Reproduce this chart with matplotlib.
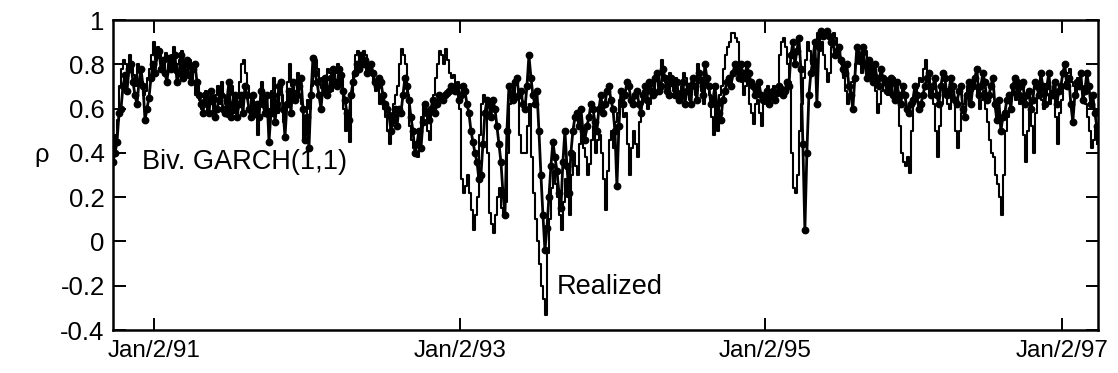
import numpy as np
import matplotlib
matplotlib.use("Agg")
import matplotlib.pyplot as plt

plt.rcParams['font.family'] = ['Liberation Sans', 'DejaVu Sans']
plt.rcParams['axes.unicode_minus'] = False

# Biv. GARCH(1,1) correlation (line with dots), read every ~4 px
garch = [
    0.36, 0.45, 0.60, 0.75, 0.78, 0.72, 0.62, 0.78, 0.55, 0.65, 0.80, 0.84,
    0.78, 0.76, 0.83, 0.80, 0.72, 0.84, 0.80, 0.75, 0.78, 0.72, 0.62, 0.66,
    0.58, 0.65, 0.60, 0.66, 0.58, 0.72, 0.62, 0.56, 0.66, 0.70, 0.60, 0.66,
    0.62, 0.68, 0.58, 0.45, 0.66, 0.62, 0.72, 0.47, 0.68, 0.72, 0.66, 0.74,
    0.46, 0.42, 0.83, 0.72, 0.60, 0.74, 0.69, 0.78, 0.70, 0.75, 0.64, 0.55,
    0.72, 0.80, 0.84, 0.82, 0.78, 0.76, 0.70, 0.72, 0.62, 0.57, 0.55,
    0.52, 0.58, 0.74, 0.64, 0.50, 0.44, 0.42, 0.62, 0.55, 0.64, 0.62, 0.65,
    0.66, 0.68, 0.69, 0.70, 0.66, 0.68, 0.58, 0.45, 0.36, 0.30, 0.58, 0.62,
    0.64, 0.52, 0.36, 0.12, 0.70, 0.64, 0.74, 0.68, 0.60, 0.84, 0.66,
    0.68, 0.30, -0.04, 0.20, 0.45, 0.32, 0.15, 0.50, 0.22, 0.50, 0.58, 0.60,
    0.46, 0.56, 0.60, 0.50, 0.66, 0.62, 0.70, 0.60, 0.25, 0.68, 0.66, 0.70,
    0.62, 0.68, 0.58, 0.70, 0.72, 0.66, 0.76, 0.70, 0.74, 0.66, 0.72,
    0.72, 0.66, 0.62, 0.70, 0.74, 0.64, 0.73, 0.80, 0.70, 0.64, 0.62, 0.55,
    0.68, 0.74, 0.76, 0.78, 0.80, 0.74, 0.76, 0.70, 0.68, 0.66, 0.64, 0.62,
    0.68, 0.67, 0.69, 0.68, 0.70, 0.90, 0.86, 0.78, 0.05, 0.66, 0.82,
    0.62, 0.95, 0.94, 0.93, 0.90, 0.86, 0.82, 0.76, 0.70, 0.60, 0.88, 0.84,
    0.80, 0.82, 0.72, 0.74, 0.78, 0.72, 0.70, 0.66, 0.72, 0.62, 0.66, 0.58,
    0.64, 0.66, 0.62, 0.70, 0.76, 0.70, 0.66, 0.70, 0.74, 0.68, 0.70,
    0.62, 0.70, 0.56, 0.72, 0.70, 0.78, 0.70, 0.72, 0.66, 0.74, 0.55, 0.50,
    0.58, 0.66, 0.70, 0.72, 0.70, 0.62, 0.68, 0.64, 0.70, 0.76, 0.62, 0.76,
    0.66, 0.62, 0.70, 0.80, 0.74, 0.54, 0.72, 0.76, 0.68, 0.70, 0.66, 0.52,
]

# GARCH readings halfway between the samples above
garch_mid = [
    0.40, 0.58, 0.70, 0.68, 0.80, 0.66, 0.72, 0.70, 0.60, 0.74, 0.76, 0.86,
    0.82, 0.72, 0.78, 0.84, 0.76, 0.74, 0.82, 0.72, 0.80, 0.66, 0.58, 0.62,
    0.68, 0.56, 0.64, 0.60, 0.64, 0.56, 0.66, 0.62, 0.58, 0.66, 0.56, 0.58,
    0.56, 0.62, 0.66, 0.58, 0.54, 0.70, 0.60, 0.62, 0.58, 0.64, 0.70, 0.60,
    0.56, 0.66, 0.76, 0.66, 0.70, 0.66, 0.74, 0.72, 0.78, 0.68, 0.58, 0.66,
    0.76, 0.78, 0.80, 0.76, 0.80, 0.72, 0.74, 0.66, 0.60, 0.50, 0.60,
    0.60, 0.66, 0.70, 0.56, 0.40, 0.50, 0.54, 0.58, 0.60, 0.58, 0.66, 0.64,
    0.67, 0.70, 0.68, 0.64, 0.70, 0.62, 0.50, 0.40, 0.28, 0.44, 0.64, 0.56,
    0.60, 0.44, 0.22, 0.50, 0.66, 0.72, 0.66, 0.62, 0.70, 0.74, 0.62,
    0.50, 0.12, 0.06, 0.34, 0.38, 0.22, 0.36, 0.34, 0.40, 0.56, 0.52, 0.50,
    0.52, 0.62, 0.54, 0.60, 0.58, 0.68, 0.64, 0.50, 0.52, 0.62, 0.72, 0.64,
    0.66, 0.62, 0.66, 0.64, 0.68, 0.74, 0.68, 0.78, 0.68, 0.74, 0.66,
    0.64, 0.72, 0.68, 0.62, 0.70, 0.76, 0.66, 0.74, 0.62, 0.70, 0.58, 0.64,
    0.72, 0.70, 0.80, 0.74, 0.76, 0.80, 0.72, 0.66, 0.72, 0.64, 0.68, 0.66,
    0.64, 0.70, 0.66, 0.72, 0.84, 0.80, 0.92, 0.44, 0.40, 0.76, 0.90,
    0.88, 0.93, 0.95, 0.90, 0.84, 0.88, 0.78, 0.80, 0.66, 0.74, 0.82, 0.88,
    0.74, 0.78, 0.80, 0.70, 0.74, 0.68, 0.74, 0.64, 0.66, 0.70, 0.60, 0.62,
    0.70, 0.60, 0.66, 0.74, 0.66, 0.74, 0.62, 0.76, 0.66, 0.74, 0.64,
    0.68, 0.60, 0.66, 0.62, 0.74, 0.66, 0.76, 0.64, 0.70, 0.62, 0.64, 0.56,
    0.64, 0.60, 0.74, 0.66, 0.72, 0.66, 0.60, 0.72, 0.66, 0.70, 0.70, 0.66,
    0.72, 0.68, 0.76, 0.70, 0.62, 0.66, 0.70, 0.64, 0.76, 0.62, 0.58,
]

# Realized correlation (thin line), read every ~4 px
realized = [
    0.40, 0.55, 0.78, 0.80, 0.84, 0.75, 0.80, 0.72, 0.68, 0.78, 0.90, 0.88,
    0.82, 0.85, 0.78, 0.88, 0.80, 0.86, 0.75, 0.82, 0.72, 0.70, 0.60, 0.68,
    0.65, 0.58, 0.70, 0.72, 0.62, 0.66, 0.58, 0.65, 0.80, 0.76, 0.66, 0.62,
    0.48, 0.72, 0.66, 0.60, 0.74, 0.58, 0.66, 0.62, 0.80, 0.64, 0.76, 0.62,
    0.54, 0.60, 0.76, 0.78, 0.74, 0.70, 0.76, 0.72, 0.80, 0.74, 0.50, 0.45,
    0.76, 0.86, 0.82, 0.84, 0.80, 0.72, 0.74, 0.66, 0.56, 0.44, 0.62,
    0.70, 0.87, 0.80, 0.52, 0.42, 0.38, 0.56, 0.60, 0.46, 0.66, 0.80, 0.84,
    0.87, 0.76, 0.75, 0.72, 0.28, 0.25, 0.22, 0.05, 0.20, 0.62, 0.64, 0.13,
    0.04, 0.20, 0.15, 0.18, 0.62, 0.70, 0.66, 0.40, 0.40, 0.62, 0.22,
    0.00, -0.20, -0.33, 0.10, 0.32, 0.20, 0.05, 0.28, 0.12, 0.40, 0.30, 0.50,
    0.38, 0.35, 0.52, 0.46, 0.40, 0.14, 0.46, 0.42, 0.58, 0.62, 0.58, 0.30,
    0.50, 0.38, 0.62, 0.66, 0.62, 0.74, 0.68, 0.82, 0.72, 0.76, 0.68,
    0.68, 0.70, 0.74, 0.64, 0.70, 0.80, 0.68, 0.74, 0.66, 0.48, 0.50, 0.70,
    0.84, 0.90, 0.94, 0.90, 0.72, 0.70, 0.62, 0.53, 0.64, 0.52, 0.66, 0.68,
    0.70, 0.66, 0.90, 0.88, 0.72, 0.24, 0.30, 0.62, 0.82, 0.86, 0.76,
    0.94, 0.90, 0.78, 0.76, 0.94, 0.88, 0.80, 0.68, 0.66, 0.74, 0.86, 0.76,
    0.86, 0.74, 0.80, 0.58, 0.68, 0.74, 0.66, 0.74, 0.64, 0.40, 0.34, 0.31,
    0.62, 0.70, 0.72, 0.82, 0.66, 0.62, 0.38, 0.62, 0.66, 0.60, 0.64,
    0.42, 0.58, 0.66, 0.62, 0.74, 0.66, 0.64, 0.60, 0.46, 0.38, 0.26, 0.12,
    0.50, 0.60, 0.68, 0.70, 0.66, 0.36, 0.60, 0.40, 0.66, 0.64, 0.68, 0.62,
    0.70, 0.44, 0.64, 0.72, 0.78, 0.70, 0.74, 0.70, 0.62, 0.50, 0.46, 0.44,
]

# Realized readings halfway between the samples above
realized_mid = [
    0.48, 0.70, 0.82, 0.76, 0.80, 0.70, 0.76, 0.66, 0.74, 0.84, 0.82, 0.86,
    0.78, 0.82, 0.84, 0.76, 0.82, 0.80, 0.78, 0.76, 0.66, 0.64, 0.64, 0.58,
    0.62, 0.66, 0.62, 0.66, 0.56, 0.70, 0.62, 0.72, 0.82, 0.70, 0.60, 0.56,
    0.62, 0.64, 0.56, 0.68, 0.62, 0.70, 0.54, 0.72, 0.70, 0.68, 0.66, 0.46,
    0.64, 0.70, 0.82, 0.72, 0.66, 0.78, 0.68, 0.76, 0.70, 0.60, 0.56, 0.66,
    0.84, 0.80, 0.86, 0.78, 0.76, 0.68, 0.62, 0.60, 0.50, 0.52, 0.66,
    0.80, 0.84, 0.66, 0.46, 0.40, 0.48, 0.62, 0.50, 0.58, 0.74, 0.86, 0.80,
    0.82, 0.74, 0.70, 0.60, 0.22, 0.30, 0.14, 0.12, 0.48, 0.66, 0.40, 0.08,
    0.12, 0.24, 0.12, 0.40, 0.68, 0.64, 0.48, 0.40, 0.52, 0.38, 0.10,
    -0.10, -0.26, -0.05, 0.24, 0.26, 0.12, 0.18, 0.20, 0.30, 0.34, 0.44, 0.42,
    0.30, 0.46, 0.40, 0.48, 0.28, 0.32, 0.50, 0.54, 0.64, 0.56, 0.44, 0.42,
    0.44, 0.54, 0.68, 0.60, 0.70, 0.66, 0.76, 0.74, 0.66, 0.70, 0.74,
    0.64, 0.76, 0.68, 0.72, 0.66, 0.74, 0.62, 0.70, 0.56, 0.62, 0.66, 0.78,
    0.88, 0.94, 0.92, 0.80, 0.66, 0.74, 0.58, 0.62, 0.58, 0.62, 0.70, 0.64,
    0.68, 0.84, 0.92, 0.80, 0.40, 0.22, 0.50, 0.74, 0.90, 0.80, 0.88,
    0.86, 0.84, 0.72, 0.88, 0.92, 0.82, 0.74, 0.62, 0.72, 0.80, 0.80, 0.84,
    0.78, 0.80, 0.68, 0.62, 0.72, 0.66, 0.70, 0.68, 0.52, 0.36, 0.38, 0.50,
    0.66, 0.74, 0.78, 0.72, 0.70, 0.50, 0.52, 0.70, 0.62, 0.66, 0.50,
    0.50, 0.62, 0.70, 0.68, 0.70, 0.60, 0.68, 0.54, 0.40, 0.30, 0.20, 0.30,
    0.56, 0.66, 0.64, 0.62, 0.48, 0.50, 0.52, 0.58, 0.70, 0.60, 0.66, 0.68,
    0.56, 0.58, 0.70, 0.76, 0.72, 0.66, 0.72, 0.64, 0.56, 0.42, 0.52,
]

x_tick_labels = ['Jan/2/91', 'Jan/2/93', 'Jan/2/95', 'Jan/2/97']
x_tick_pos = [70, 591, 1111, 1617]          # trading-day index
y_ticks = [-0.4, -0.2, 0, 0.2, 0.4, 0.6, 0.8, 1]
y_tick_labels = ['-0.4', '-0.2', '0', '0.2', '0.4', '0.6', '0.8', '1']


def merge(main, mid):
    out = np.empty(len(main) + len(mid))
    out[0::2] = main
    out[1::2] = mid
    return out


g_all = merge(garch, garch_mid)
r_all = merge(realized, realized_mid)
t = np.linspace(0, 1677, len(g_all))

fig = plt.figure(figsize=(11.18, 3.73), dpi=100)
ax = fig.add_axes([113/1118, 1 - 330/373, (1098-113)/1118, (330-20)/373])

ax.plot(t, r_all, color='black', lw=1.5, drawstyle='steps-post')
ax.plot(t, g_all, color='black', lw=2.0, marker='o', ms=4.6)

ax.set_xlim(0, 1679)
ax.set_ylim(-0.4, 1.0)
ax.set_xticks(x_tick_pos)
ax.set_xticklabels(x_tick_labels)
ax.set_yticks(y_ticks)
ax.set_yticklabels(y_tick_labels)

for s in ax.spines.values():
    s.set_linewidth(1.8)
ax.tick_params(direction='in', length=9, width=1.4, top=True, right=True)
ax.tick_params(axis='y', labelsize=18.5, pad=6)
ax.tick_params(axis='x', labelsize=17.5, pad=7)

ax.text(0.029, 0.542, 'Biv. GARCH(1,1)', transform=ax.transAxes,
        fontsize=19.5, ha='left', va='center')
ax.text(0.451, 0.14, 'Realized', transform=ax.transAxes,
        fontsize=19.5, ha='left', va='center')
fig.text(42/1118, 1 - 155/373, 'ρ', fontsize=18.5, ha='center', va='center')

fig.savefig('out.png', dpi=100)
